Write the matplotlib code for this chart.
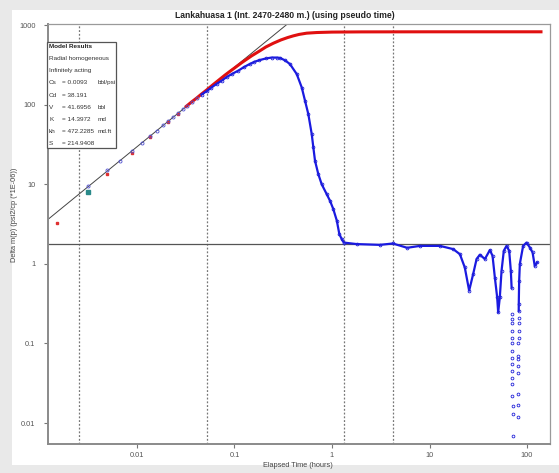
import numpy as np
import matplotlib
matplotlib.use("Agg")
import matplotlib.pyplot as plt
from matplotlib.patches import Rectangle

plt.rcParams['font.family'] = ['Liberation Sans', 'DejaVu Sans']

title = "Lankahuasa 1 (Int. 2470-2480 m.) (using pseudo time)"
xlabel = "Elapsed Time (hours)"
ylabel = "Delta m(p) (psi2/cp (*1E-06))"
x_ticks = [0.01, 0.1, 1, 10, 100]
x_tick_labels = ["0.01", "0.1", "1", "10", "100"]
y_ticks = [0.01, 0.1, 1, 10, 100, 1000]
y_tick_labels = ["0.01", "0.1", "1", "10", "100", "1000"]

# model results box
box_rows = [
    ("Cs", "= 0.0093", "bbl/psi"),
    ("Cd", "= 38.191", ""),
    ("V", "= 41.6956", "bbl"),
    ("K", "= 14.3972", "md"),
    ("kh", "= 472.2285", "md.ft"),
    ("S", "= 214.9408", ""),
]

# unit slope line, radial flow line, markers of flow regimes
slope_t = [0.00123, 0.339]
slope_dp = [3.63, 1000]
radial_dp = 1.78
vlines_t = [0.00255, 0.052, 1.32, 4.24]

# early sparse points
early_t = [0.00316, 0.0049, 0.0067, 0.0088, 0.0112, 0.0136, 0.0159, 0.0186,
           0.0209, 0.0236, 0.0265, 0.0298, 0.0323, 0.0363, 0.0409]
early_dp = [9.6, 15, 19.8, 26, 33, 40, 47, 55, 62, 70, 78, 88, 95, 107, 121]
red_pts_t = [0.0015, 0.0049, 0.0088, 0.0136, 0.0209, 0.0265]
red_pts_dp = [3.3, 13.5, 25, 39, 60, 77]
first_t = [0.00316]
first_dp = [8.0]

# pressure change (red)
dp_t = [0.032, 0.036, 0.041, 0.046, 0.052, 0.06, 0.07, 0.08, 0.09, 0.1, 0.12,
        0.15, 0.18, 0.21, 0.25, 0.3, 0.35, 0.4, 0.46, 0.55, 0.7, 1.0, 2.0,
        10, 139]
dp_val = [95, 107, 121, 136, 153, 177, 206, 235, 262, 288, 340, 410, 470,
          530, 590, 650, 695, 730, 762, 790, 805, 815, 820, 822, 822]

# pressure derivative (blue)
der_t = [0.046, 0.052, 0.058, 0.066, 0.074, 0.083, 0.095,
         0.11, 0.125, 0.143, 0.16, 0.18, 0.21, 0.24, 0.27, 0.293, 0.33, 0.371,
         0.435, 0.49, 0.529, 0.572, 0.62, 0.644, 0.67, 0.724, 0.784, 0.883,
         0.954, 1.03, 1.12, 1.19, 1.26, 1.32, 1.79, 3.1, 4.2, 5.9, 8.0, 12.8,
         17.5, 20.5, 23, 25.5, 28, 30.4, 32.8, 37, 41.6, 44.3, 46.8, 49.4,
         50.6, 52.6, 54.8, 57.8, 61.6, 65.6, 68.2, 69.5,
         70.2, 70.3, 70.4, 70.5, 70.55, 70.6, 70.65, 70.7, 70.75, 70.8, 70.85,
         70.9, 70.95, 71.0, 71.05, 71.1,
         81.0, 81.1, 81.2, 81.3, 81.4, 81.5, 81.6, 81.7, 81.8, 81.9, 82.0,
         82.1, 82.2, 82.3, 83.0,
         84.4, 91.2, 98.8, 107, 114, 120, 127]
der_val = [134, 148, 164, 183, 200, 222, 244, 268, 296, 323, 345,
           362, 380, 390, 390, 386, 360, 323, 242, 164, 112, 76, 42.6, 29,
           19.7, 13.4, 10, 7.5, 6.2, 4.9, 3.5, 2.36, 2.04, 1.85, 1.77, 1.73,
           1.8, 1.59, 1.68, 1.68, 1.53, 1.32, 0.9, 0.46, 0.74, 1.15, 1.3, 1.15,
           1.49, 1.26, 0.67, 0.38, 0.245, 0.38, 0.82, 1.46, 1.68, 1.46, 0.82,
           0.5,
           0.234, 0.204, 0.178, 0.144, 0.117, 0.1, 0.081, 0.066, 0.055, 0.045,
           0.037, 0.031, 0.022, 0.0165, 0.013, 0.0069,
           0.012, 0.017, 0.023, 0.042, 0.052, 0.064, 0.069, 0.1, 0.117, 0.144,
           0.178, 0.209, 0.257, 0.316, 0.6,
           1.0, 1.68, 1.85, 1.6, 1.39, 0.94, 1.04]

W, H = 559, 473
fig = plt.figure(figsize=(W / 100, H / 100), dpi=100)
fig.patch.set_facecolor('#e9e9e9')
panel = Rectangle((12 / W, 1 - 465 / H), 1 - 12 / W, 455 / H,
                  transform=fig.transFigure, facecolor='white',
                  edgecolor='none', zorder=-5)
fig.add_artist(panel)

ax = fig.add_axes([48 / W, 1 - 444 / H, 502 / W, 420 / H])
ax.set_zorder(1)
ax.set_xscale('log')
ax.set_yscale('log')
ax.set_xlim(0.001225, 172)
ax.set_ylim(0.00545, 1030)

for t in vlines_t:
    ax.axvline(t, color='#777777', ls=(0, (1.5, 1.5)), lw=0.9, zorder=1)
ax.axhline(radial_dp, color='#555555', lw=0.9, zorder=1)
ax.plot(slope_t, slope_dp, color='#444444', lw=0.7, zorder=2)

ax.plot(dp_t, dp_val, color='#e01010', lw=2.2, zorder=3)
ax.plot(red_pts_t, red_pts_dp, 's', color='#e03030', ms=1.6, zorder=4)

# line only where the points sit close together, dots in the deep dips
der_line = np.where(np.array(der_val) < 0.24, np.nan, der_val)
ax.plot(der_t, der_line, color='#1a1ae0', lw=1.6, zorder=4)
ax.plot(der_t, der_val, 'o', mfc='none', mec='#2020d8', ms=2.0, mew=0.6,
        zorder=5)
ax.plot(early_t, early_dp, 'o', mfc='none', mec='#5050d0', ms=2.2, mew=0.6,
        zorder=5)
ax.plot(first_t, first_dp, 's', color='#2a8a8a', ms=2.6, zorder=5)

ax.set_xticks(x_ticks)
ax.set_xticklabels(x_tick_labels)
ax.set_yticks(y_ticks)
ax.set_yticklabels(y_tick_labels)
ax.minorticks_off()
ax.tick_params(labelsize=5.3, labelcolor='#555555', color='#777777',
               length=3, width=0.8)
ax.tick_params(axis='x', pad=3)
ax.tick_params(axis='y', pad=6)
for side in ['left', 'bottom']:
    ax.spines[side].set_color('#8a8a8a')
    ax.spines[side].set_linewidth(1.4)
for side in ['top', 'right']:
    ax.spines[side].set_color('#9a9a9a')
    ax.spines[side].set_linewidth(0.9)

fig.text(285 / W, 1 - 16 / H, title, ha='center', va='center', fontsize=6.2,
         fontweight='bold', color='#222222')
fig.text(298 / W, 1 - 465 / H, xlabel, ha='center', va='center',
         fontsize=5.3, color='#444444')
fig.text(15 / W, 1 - 215 / H, ylabel, ha='center', va='center',
         rotation=90, fontsize=5.3, color='#444444')

# results box (drawn over the axes)
box = Rectangle((47 / W, 1 - 148 / H), 69 / W, 106 / H,
                transform=fig.transFigure, facecolor='white',
                edgecolor='#555555', lw=0.9, zorder=6)
fig.add_artist(box)
fs = 4.6
fig.text(49 / W, 1 - 46 / H, "Model Results", fontsize=fs, fontweight='bold',
         va='center', color='#222222', zorder=7)
fig.text(49 / W, 1 - 58.5 / H, "Radial homogeneous", fontsize=fs,
         va='center', color='#333333', zorder=7)
fig.text(49 / W, 1 - 70.7 / H, "Infinitely acting", fontsize=fs,
         va='center', color='#333333', zorder=7)
for i, (name, val, unit) in enumerate(box_rows):
    y = 1 - (82.8 + 12.2 * i) / H
    fig.text(49 / W, y, name, fontsize=fs, va='center', color='#333333',
             zorder=7)
    fig.text(62.5 / W, y, val, fontsize=fs, va='center', color='#333333',
             zorder=7)
    fig.text(97.5 / W, y, unit, fontsize=fs, va='center', color='#333333',
             zorder=7)

fig.savefig('out.png', dpi=100, facecolor=fig.get_facecolor())
